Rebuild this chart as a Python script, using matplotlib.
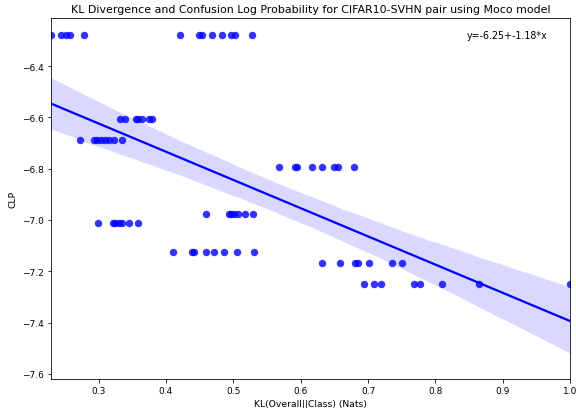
import numpy as np
import matplotlib
matplotlib.use("Agg")
import matplotlib.pyplot as plt
import seaborn as sns

# KL divergence (x) per row of equal CLP (y)
kl_a = [0.229, 0.245, 0.252, 0.257, 0.279, 0.421, 0.449, 0.453, 0.468, 0.483, 0.496, 0.502, 0.527]
kl_b = [0.332, 0.339, 0.355, 0.358, 0.365, 0.375, 0.380]
kl_c = [0.272, 0.293, 0.297, 0.303, 0.309, 0.315, 0.323, 0.335]
kl_d = [0.568, 0.592, 0.594, 0.617, 0.631, 0.650, 0.655, 0.679]
kl_e = [0.460, 0.493, 0.497, 0.501, 0.507, 0.518, 0.529]
kl_f = [0.299, 0.321, 0.324, 0.331, 0.335, 0.345, 0.358]
kl_g = [0.410, 0.438, 0.442, 0.459, 0.471, 0.486, 0.505, 0.531]
kl_h = [0.632, 0.658, 0.681, 0.685, 0.701, 0.735, 0.751]
kl_i = [0.694, 0.709, 0.719, 0.768, 0.777, 0.809, 0.864, 1.0]

clp_rows = [-6.277, -6.605, -6.687, -6.794, -6.975, -7.011, -7.126, -7.168, -7.251]
kl_rows = [kl_a, kl_b, kl_c, kl_d, kl_e, kl_f, kl_g, kl_h, kl_i]

kl = np.concatenate([np.array(r) for r in kl_rows])
clp = np.concatenate([np.full(len(r), v) for r, v in zip(kl_rows, clp_rows)])

fig = plt.figure(figsize=(8, 5.68), dpi=72)
ax = fig.add_axes([0.088, 0.071, 0.902, 0.883])

sns.regplot(x=kl, y=clp, ax=ax, color="blue", seed=0,
            scatter_kws={"s": 55, "linewidths": 0})

ax.set_xlim(kl.min(), kl.max())
ax.set_ylim(-7.62, -6.212)
ax.set_title("KL Divergence and Confusion Log Probability for CIFAR10-SVHN pair using Moco model",
             fontsize=11)
ax.set_xlabel("KL(Overall||Class) (Nats)", fontsize=9.2)
ax.set_ylabel("CLP", fontsize=9.2)
ax.tick_params(labelsize=9)
ax.text(0.80, 0.945, "y=-6.25+-1.18*x", transform=ax.transAxes, fontsize=9.5)

fig.savefig("out.png", dpi=72)
